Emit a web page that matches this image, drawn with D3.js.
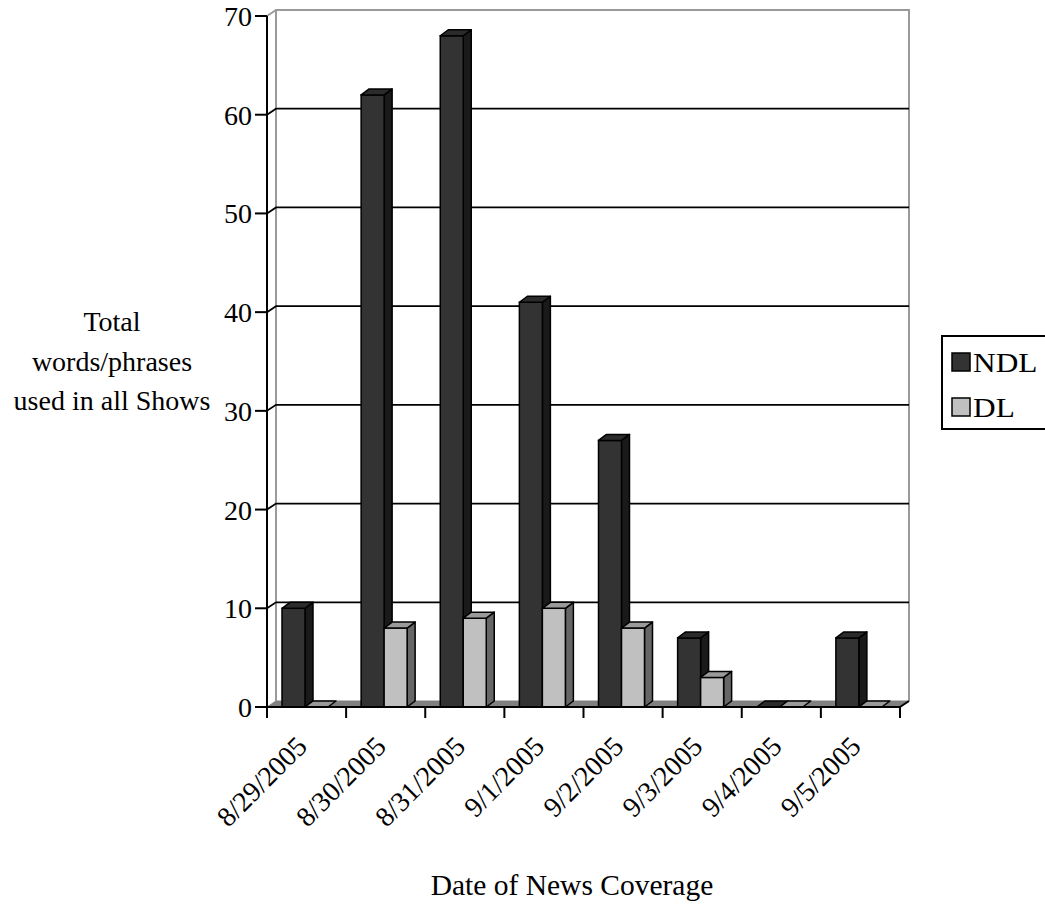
<!DOCTYPE html>
<html>
<head>
<meta charset="utf-8">
<script src="https://cdn.jsdelivr.net/npm/d3@7"></script>
<style>
  html, body { margin: 0; padding: 0; background: #fff; }
  svg { display: block; }
</style>
</head>
<body>
<svg id="chart" width="1045" height="905"></svg>
<script>
// Coverage counts per day
const dates = ["8/29/2005", "8/30/2005", "8/31/2005", "9/1/2005", "9/2/2005", "9/3/2005", "9/4/2005", "9/5/2005"];
const seriesNames = ["NDL", "DL"];
const ndlValues = [10, 62, 68, 41, 27, 7, 0, 7];
const dlValues = [0, 8, 9, 10, 8, 3, 0, 0];
const yTicks = [0, 10, 20, 30, 40, 50, 60, 70];
const yTitleLines = ["Total", "words/phrases", "used in all Shows"];
const xTitle = "Date of News Coverage";

const FONT = 28;
const FAMILY = "'Liberation Serif', 'Times New Roman', Tinos, Times, serif";

const svg = d3.select("#chart")
  .attr("font-family", FAMILY)
  .style("font-family", FAMILY);

// plot frame
const plotL = 267, plotR = 900, plotB = 707, plotT = 16;
const DX = 9, DY = -6;       // depth offset of the walls
const BDX = 8, BDY = -6;     // depth offset of each column

const x = d3.scaleBand().domain(dates).range([plotL, plotR]).padding(0);
const xs = d3.scaleBand().domain(seriesNames).range([15, 61]).padding(0);
const y = d3.scaleLinear().domain([0, 70]).range([plotB, plotT]);

const faces = {
  NDL: { front: "#333333", side: "#1a1a1a", top: "#2b2b2b" },
  DL:  { front: "#c0c0c0", side: "#666666", top: "#9a9a9a" }
};

function label(sel, size) {
  return sel.attr("font-family", FAMILY).style("font-family", FAMILY)
    .attr("font-size", size || FONT).attr("fill", "#000");
}

// floor
svg.append("polygon")
  .attr("points", [[plotL, plotB], [plotR, plotB], [plotR + DX, plotB + DY], [plotL + DX, plotB + DY]].join(" "))
  .attr("fill", "#808080").attr("stroke", "#808080").attr("stroke-width", 1);

// back wall & side wall edges
const wallColor = "#9a9a9a";
svg.append("path")
  .attr("d", `M${plotL + DX},${plotB + DY} V${plotT + DY} H${plotR + DX} V${plotB + DY}`)
  .attr("fill", "none").attr("stroke", wallColor).attr("stroke-width", 2);
svg.append("path")
  .attr("d", `M${plotL},${plotT} L${plotL + DX},${plotT + DY}`)
  .attr("fill", "none").attr("stroke", wallColor).attr("stroke-width", 2);

// gridlines on the back and left walls
yTicks.filter(t => t > 0 && t < 70).forEach(t => {
  svg.append("path")
    .attr("d", `M${plotL},${y(t)} L${plotL + DX},${y(t) + DY} H${plotR + DX}`)
    .attr("fill", "none").attr("stroke", "#000").attr("stroke-width", 1.8);
});

// columns
function drawColumn(cx, w, v, c) {
  const g = svg.append("g");
  const y0 = y(0), y1 = y(v);
  if (v > 0) {
    g.append("polygon") // side face
      .attr("points", [[cx + w, y1], [cx + w + BDX, y1 + BDY], [cx + w + BDX, y0 + BDY], [cx + w, y0]].join(" "))
      .attr("fill", c.side).attr("stroke", "#000").attr("stroke-width", 1.5).attr("stroke-linejoin", "round");
    g.append("rect") // front face
      .attr("x", cx).attr("y", y1).attr("width", w).attr("height", y0 - y1)
      .attr("fill", c.front).attr("stroke", "#000").attr("stroke-width", 1.5);
  }
  g.append("polygon") // top face
    .attr("points", [[cx, y1], [cx + w, y1], [cx + w + BDX, y1 + BDY], [cx + BDX, y1 + BDY]].join(" "))
    .attr("fill", c.top).attr("stroke", "#000").attr("stroke-width", 1.5).attr("stroke-linejoin", "round");
}

dates.forEach((d, i) => {
  const vals = { NDL: ndlValues[i], DL: dlValues[i] };
  seriesNames.forEach(s => {
    drawColumn(x(d) + xs(s), xs.bandwidth(), vals[s], faces[s]);
  });
});

// y axis
svg.append("line").attr("x1", plotL).attr("x2", plotL).attr("y1", plotT).attr("y2", plotB)
  .attr("stroke", "#000").attr("stroke-width", 2);
yTicks.forEach(t => {
  svg.append("line").attr("x1", plotL - 12).attr("x2", plotL).attr("y1", y(t)).attr("y2", y(t))
    .attr("stroke", "#000").attr("stroke-width", 2);
  label(svg.append("text"))
    .attr("x", plotL - 15).attr("y", y(t) + 10)
    .attr("text-anchor", "end").text(t);
});

// x axis
svg.append("line").attr("x1", plotL).attr("x2", plotR).attr("y1", plotB).attr("y2", plotB)
  .attr("stroke", "#000").attr("stroke-width", 2);
svg.append("line").attr("x1", plotR).attr("x2", plotR + DX).attr("y1", plotB).attr("y2", plotB + DY)
  .attr("stroke", "#000").attr("stroke-width", 2);
const tickXs = dates.map(d => x(d)).concat([plotR]);
tickXs.forEach(tx => {
  svg.append("line").attr("x1", tx).attr("x2", tx).attr("y1", plotB).attr("y2", plotB + 11)
    .attr("stroke", "#000").attr("stroke-width", 2);
});
dates.forEach(d => {
  const cx = x(d) + x.bandwidth() / 2;
  label(svg.append("text"))
    .attr("transform", `translate(${cx + 2},${plotB + 41}) rotate(-45)`)
    .attr("text-anchor", "end").text(d);
});

// axis titles
const yTitle = label(svg.append("text")).attr("text-anchor", "middle");
yTitleLines.forEach((line, i) => {
  yTitle.append("tspan").attr("x", 112).attr("y", 331 + i * 39.5).text(line);
});
label(svg.append("text"), 29.5)
  .attr("x", 572).attr("y", 895)
  .attr("text-anchor", "middle").text(xTitle);

// legend
const legend = svg.append("g");
legend.append("rect").attr("x", 942).attr("y", 336).attr("width", 140).attr("height", 93)
  .attr("fill", "#fff").attr("stroke", "#000").attr("stroke-width", 2);
seriesNames.forEach((s, i) => {
  const ly = 353 + i * 45;
  legend.append("rect").attr("x", 952).attr("y", ly).attr("width", 18).attr("height", 18)
    .attr("fill", faces[s].front).attr("stroke", "#000").attr("stroke-width", 1.5);
  label(legend.append("text"))
    .attr("transform", `translate(973,${ly + 19}) scale(1.12,1)`)
    .text(s);
});
</script>
</body>
</html>
